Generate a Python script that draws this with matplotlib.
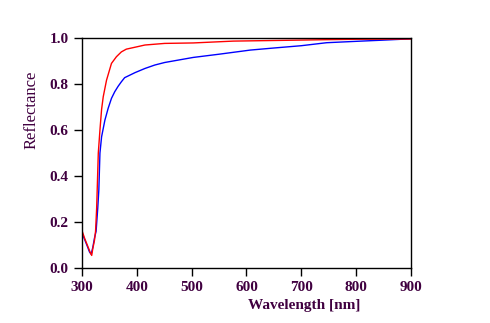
import numpy as np
import matplotlib.pyplot as plt

wl_red = [300, 305, 310, 315, 318, 320, 323, 325, 327, 330, 333, 336, 339, 345, 354, 363, 372, 381, 400,
          415, 451, 503, 576, 660, 740, 800, 900]
r_red = [0.165, 0.13, 0.1, 0.07, 0.055, 0.085, 0.12, 0.16, 0.26, 0.5, 0.6, 0.69, 0.745, 0.817, 0.89, 0.919, 0.94, 0.952, 0.962,
         0.97, 0.977, 0.979, 0.987, 0.99, 0.993, 0.995, 0.996]

wl_blue = [300, 305, 310, 314, 317, 320, 323, 326, 329, 331, 333, 336, 342, 348, 354, 360, 366, 372, 378,
           397, 415, 433, 451, 503, 550, 607, 650, 700, 746, 800, 847, 900]
r_blue = [0.155, 0.125, 0.095, 0.07, 0.06, 0.09, 0.13, 0.16, 0.26, 0.34, 0.5, 0.571, 0.643, 0.695, 0.738, 0.767, 0.79, 0.81, 0.828,
          0.85, 0.868, 0.883, 0.894, 0.916, 0.93, 0.948, 0.957, 0.967, 0.98, 0.986, 0.991, 0.997]

txt = '#400040'
plt.rcParams['font.family'] = 'Liberation Serif'

fig = plt.figure(figsize=(4.9, 3.23), dpi=100)
ax = fig.add_axes([0.167, 0.170, 0.672, 0.712])
ax.plot(wl_blue, r_blue, color='blue', lw=1)
ax.plot(wl_red, r_red, color='red', lw=1)
ax.set_xlim(300, 900)
ax.set_ylim(0, 1)
ax.set_xticks([300, 400, 500, 600, 700, 800, 900])
ax.set_yticks([0.0, 0.2, 0.4, 0.6, 0.8, 1.0])
ax.set_yticklabels(['0.0', '0.2', '0.4', '0.6', '0.8', '1.0'])
ax.tick_params(direction='out', length=6, width=1, colors='black', labelcolor=txt, labelsize=11)
for lab in ax.get_xticklabels() + ax.get_yticklabels():
    lab.set_fontweight('bold')
for s in ax.spines.values():
    s.set_linewidth(1)
ax.set_xlabel('Wavelength [nm]', fontsize=11, fontweight='bold', color=txt, labelpad=2)
ax.xaxis.set_label_coords(0.675, -0.135)
ax.set_ylabel('Reflectance', fontsize=12, color=txt)
ax.yaxis.set_label_coords(-0.13, 0.69)
fig.savefig('out.png', dpi=100)
